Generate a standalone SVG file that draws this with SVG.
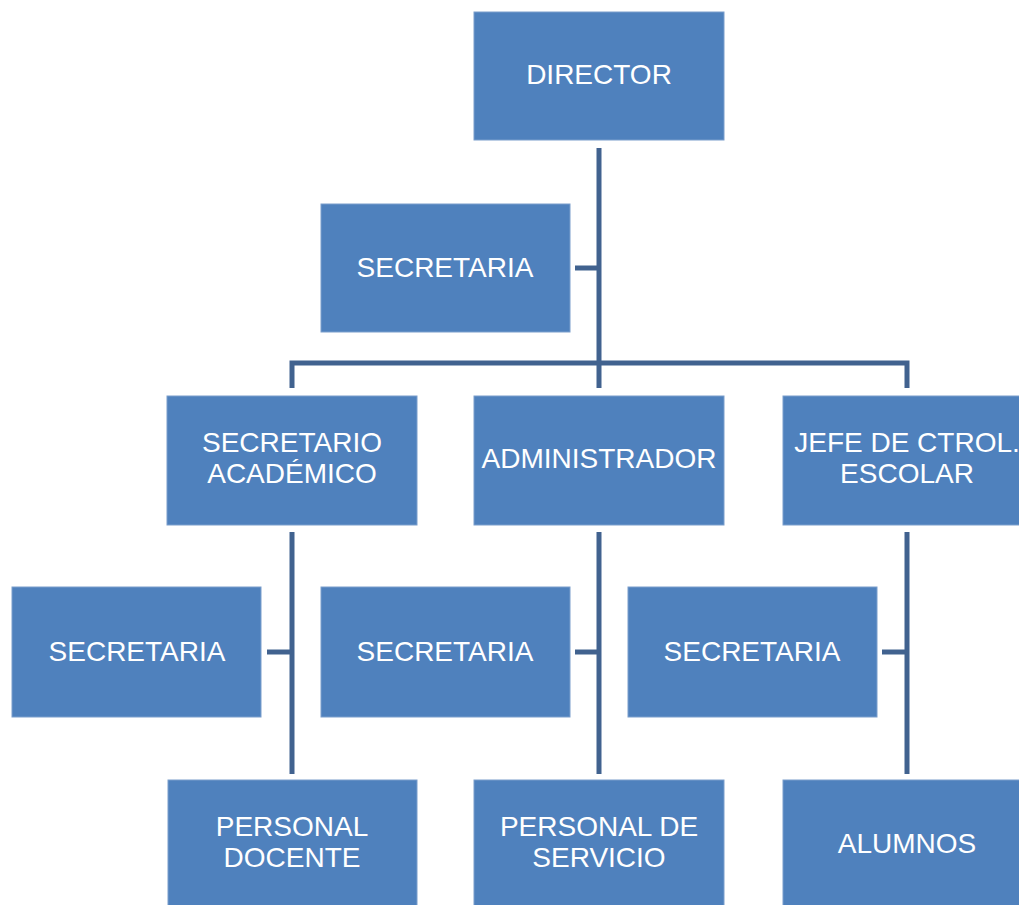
<svg xmlns="http://www.w3.org/2000/svg" width="1019" height="905" viewBox="0 0 1019 905">
<style>
.box{fill:#4f81bd;stroke:#7b9ecc;stroke-width:1}
.t{font-family:"Liberation Sans",Arial,sans-serif;font-size:28px;fill:#ffffff;text-anchor:middle}
.c{fill:none;stroke:#41628f;stroke-width:5;stroke-linejoin:miter}
</style>
<rect width="1019" height="905" fill="#ffffff"/>
<g id="connectors">
<path class="c" d="M599,148 V388"/>
<path class="c" d="M575,268 H599"/>
<path class="c" d="M292,388 V363 H907 V388"/>
<path class="c" d="M292,532 V774"/>
<path class="c" d="M599,532 V774"/>
<path class="c" d="M907,532 V774"/>
<path class="c" d="M267,652 H292"/>
<path class="c" d="M575,652 H599"/>
<path class="c" d="M882,652 H907"/>
</g>
<g id="director"><rect class="box" x="474" y="12" width="250" height="128"/><text class="t" x="599" y="84">DIRECTOR</text></g>
<g id="secretaria-dir"><rect class="box" x="321" y="204" width="249" height="128"/><text class="t" x="445" y="277">SECRETARIA</text></g>
<g id="secretario-academico"><rect class="box" x="167" y="396" width="250" height="129"/><text class="t" x="292" y="452">SECRETARIO</text><text class="t" x="292" y="483">ACADÉMICO</text></g>
<g id="administrador"><rect class="box" x="474" y="396" width="250" height="129"/><text class="t" x="599" y="468">ADMINISTRADOR</text></g>
<g id="jefe-ctrol"><rect class="box" x="783" y="396" width="250" height="129"/><text class="t" x="907" y="452">JEFE DE CTROL.</text><text class="t" x="907" y="483">ESCOLAR</text></g>
<g id="secretaria-1"><rect class="box" x="12" y="587" width="249" height="130"/><text class="t" x="137" y="661">SECRETARIA</text></g>
<g id="secretaria-2"><rect class="box" x="321" y="587" width="249" height="130"/><text class="t" x="445" y="661">SECRETARIA</text></g>
<g id="secretaria-3"><rect class="box" x="628" y="587" width="249" height="130"/><text class="t" x="752" y="661">SECRETARIA</text></g>
<g id="personal-docente"><rect class="box" x="168" y="780" width="249" height="130"/><text class="t" x="292" y="836">PERSONAL</text><text class="t" x="292" y="867">DOCENTE</text></g>
<g id="personal-servicio"><rect class="box" x="474" y="780" width="250" height="130"/><text class="t" x="599" y="836">PERSONAL DE</text><text class="t" x="599" y="867">SERVICIO</text></g>
<g id="alumnos"><rect class="box" x="783" y="780" width="250" height="130"/><text class="t" x="907" y="853">ALUMNOS</text></g>
</svg>
